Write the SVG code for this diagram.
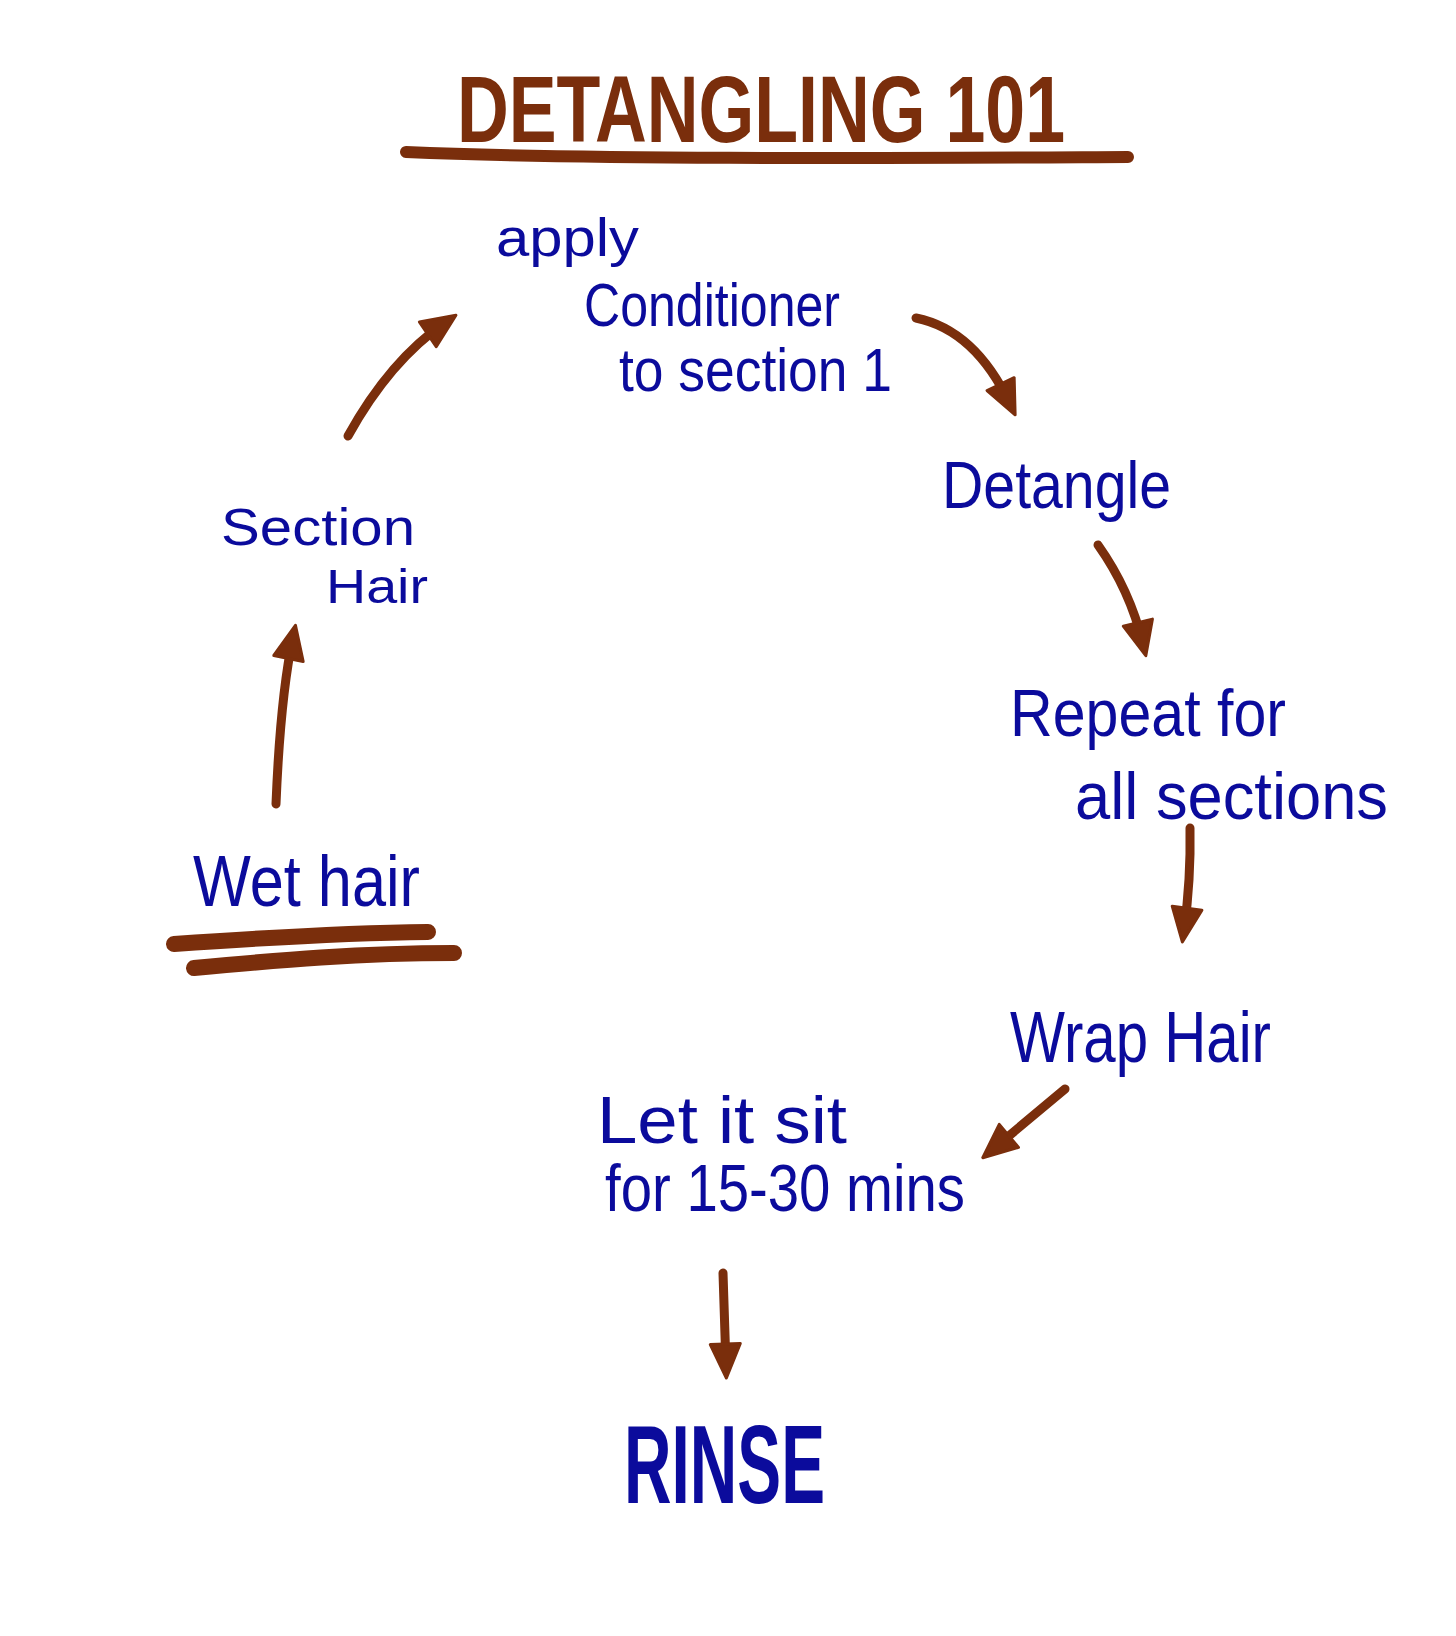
<svg xmlns="http://www.w3.org/2000/svg" width="1456" height="1636" viewBox="0 0 1456 1636">
<style>
.t{font-family:"Liberation Sans","DejaVu Sans",sans-serif;fill:#0b0b9c}
.title{font-family:"Liberation Sans","DejaVu Sans",sans-serif;fill:#7a2e0c;font-weight:bold;font-size:94px}
.c{fill:none;stroke:#7a2e0c;stroke-width:9;stroke-linecap:round;stroke-linejoin:round}
.u{fill:none;stroke:#7a2e0c;stroke-linecap:round}
</style>
<defs>
<marker id="ah" viewBox="0 0 40 40" refX="24" refY="18" markerWidth="40" markerHeight="40" markerUnits="userSpaceOnUse" orient="auto">
<path d="M2,3 L36,18 L2,33 Z" fill="#7a2e0c" stroke="#7a2e0c" stroke-width="3" stroke-linejoin="round"/>
</marker>
</defs>
<rect width="1456" height="1636" fill="#ffffff"/>
<g id="title">
<text class="title" x="457" y="142" textLength="608" lengthAdjust="spacingAndGlyphs">DETANGLING 101</text>
<path class="u" d="M406,152 C600,160 900,158 1128,157" stroke-width="12"/>
</g>
<g id="apply">
<text class="t" x="496" y="256" style="font-size:54px" textLength="143" lengthAdjust="spacingAndGlyphs">apply</text>
<text class="t" x="584" y="326" style="font-size:62px" textLength="256" lengthAdjust="spacingAndGlyphs">Conditioner</text>
<text class="t" x="619" y="391" style="font-size:62px" textLength="273" lengthAdjust="spacingAndGlyphs">to section 1</text>
</g>
<g id="section">
<text class="t" x="221" y="545" style="font-size:52px" textLength="194" lengthAdjust="spacingAndGlyphs">Section</text>
<text class="t" x="326" y="603" style="font-size:48px" textLength="102" lengthAdjust="spacingAndGlyphs">Hair</text>
</g>
<g id="wet">
<text class="t" x="193" y="906" style="font-size:72px" textLength="227" lengthAdjust="spacingAndGlyphs">Wet hair</text>
<path class="u" d="M174,944 C260,938 340,933 428,932" stroke-width="16"/>
<path class="u" d="M194,968 C280,960 360,953 454,953" stroke-width="16"/>
</g>
<g id="detangle">
<text class="t" x="942" y="508" style="font-size:66px" textLength="229" lengthAdjust="spacingAndGlyphs">Detangle</text>
</g>
<g id="repeat">
<text class="t" x="1010" y="736" style="font-size:66px" textLength="276" lengthAdjust="spacingAndGlyphs">Repeat for</text>
<text class="t" x="1075" y="819" style="font-size:66px" textLength="313" lengthAdjust="spacingAndGlyphs">all sections</text>
</g>
<g id="wrap">
<text class="t" x="1010" y="1062" style="font-size:72px" textLength="261" lengthAdjust="spacingAndGlyphs">Wrap Hair</text>
</g>
<g id="letsit">
<text class="t" x="597" y="1143" style="font-size:66px" textLength="250" lengthAdjust="spacingAndGlyphs">Let it sit</text>
<text class="t" x="605" y="1211" style="font-size:66px" textLength="360" lengthAdjust="spacingAndGlyphs">for 15-30 mins</text>
</g>
<g id="rinse">
<text class="t" x="624" y="1503" style="font-size:112px;font-weight:bold" textLength="201" lengthAdjust="spacingAndGlyphs">RINSE</text>
</g>
<g id="connectors">
<path class="c" d="M276,804 C279,730 284,680 293,637" marker-end="url(#ah)"/>
<path class="c" d="M348,436 Q390,360 446,322" marker-end="url(#ah)"/>
<path class="c" d="M916,318 Q975,330 1010,404" marker-end="url(#ah)"/>
<path class="c" d="M1098,545 Q1130,590 1143,644" marker-end="url(#ah)"/>
<path class="c" d="M1190,828 Q1191,880 1184,930" marker-end="url(#ah)"/>
<path class="c" d="M1065,1089 L992,1150" marker-end="url(#ah)"/>
<path class="c" d="M723,1273 L726,1366" marker-end="url(#ah)"/>
</g>
</svg>
